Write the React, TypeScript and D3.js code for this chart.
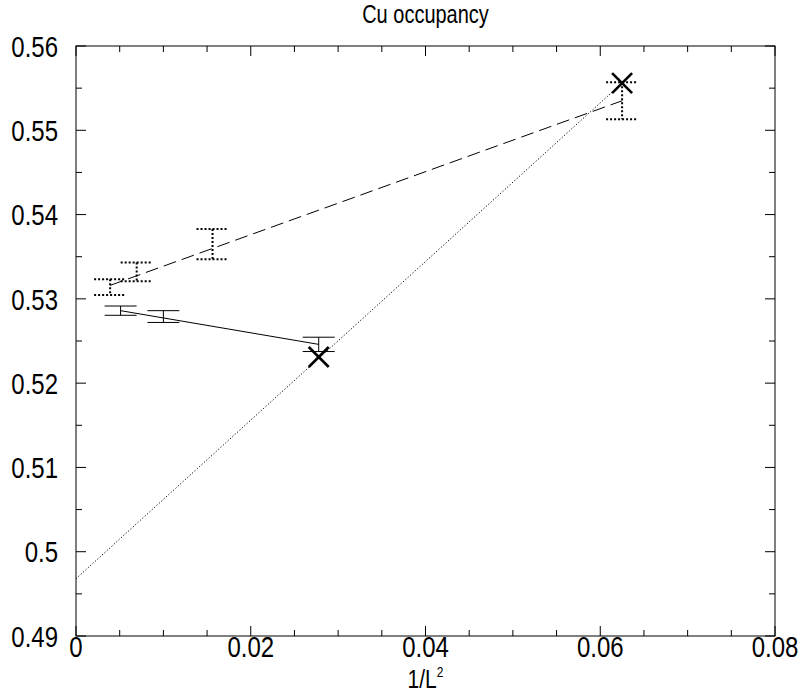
import React from 'react';
import * as d3 from 'd3';

const title = 'Cu occupancy';
const xTicks = [0, 0.02, 0.04, 0.06, 0.08];
const xTickLabels = ['0', '0.02', '0.04', '0.06', '0.08'];
const yTicks = [0.49, 0.5, 0.51, 0.52, 0.53, 0.54, 0.55, 0.56];
const yTickLabels = ['0.49', '0.5', '0.51', '0.52', '0.53', '0.54', '0.55', '0.56'];

// solid series with error bars
const solidX = [1 / 196, 1 / 100, 1 / 36];
const solidY = [0.5286, 0.5279, 0.5246];
const solidErr = [0.00055, 0.0007, 0.00085];
const solidFitX = [1 / 196, 1 / 36];
const solidFitY = [0.5286, 0.5246];

// dashed series with dotted error bars
const dashX = [1 / 256, 1 / 144, 1 / 64, 1 / 16];
const dashY = [0.5314, 0.5332, 0.5365, 0.5535];
const dashErr = [0.00093, 0.0011, 0.0018, 0.0022];
const dashFitX = [1 / 256, 1 / 16];
const dashFitY = [0.5316, 0.5535];

// extrapolation crosses and dotted line
const crossX = [1 / 36, 1 / 16];
const crossY = [0.5231, 0.5556];
const dottedX = [0, 1 / 16];
const dottedY = [0.4968, 0.5556];

const W = 800;
const H = 694;
const L = 76;
const R = 775;
const T = 46;
const B = 636;
const FONT = 'Liberation Sans, Arial, sans-serif';
const SY = 1.25;
const TICK_FS = 24;

export default function App() {
  const x = d3.scaleLinear().domain([0, 0.08]).range([L, R]);
  const y = d3.scaleLinear().domain([0.49, 0.56]).range([B, T]);
  const line = d3
    .line<[number, number]>()
    .x((d) => x(d[0]))
    .y((d) => y(d[1]));

  const xMinor = d3.range(0, 0.0801, 0.005);
  const yMinor = d3.range(0.49, 0.5601, 0.005);
  const capW = 16;
  const cs = 10;

  const errBar = (xs: number[], ys: number[], es: number[], dash: string | undefined, key: string) =>
    xs.map((xv, i) => {
      const cx = x(xv);
      const y1 = y(ys[i] + es[i]);
      const y2 = y(ys[i] - es[i]);
      const sw = dash ? 2 : 1;
      return (
        <g key={key + i} stroke="#000" fill="none" strokeDasharray={dash}>
          <line x1={cx} x2={cx} y1={y1} y2={y2} strokeWidth={sw} />
          <line x1={cx - capW} x2={cx + capW} y1={y1} y2={y1} strokeWidth={sw} />
          <line x1={cx - capW} x2={cx + capW} y1={y2} y2={y2} strokeWidth={sw} />
        </g>
      );
    });

  const stretched = (tx: number, ty: number, anchor: string, fs: number, content: React.ReactNode, key?: string) => (
    <text
      key={key}
      transform={`translate(${tx},${ty}) scale(1,${SY})`}
      textAnchor={anchor}
      fontFamily={FONT}
      fontSize={fs}
      fill="#000"
    >
      {content}
    </text>
  );

  return (
    <svg width={W} height={H} style={{ position: 'absolute', left: 0, top: 0, background: '#fff' }}>
      <rect x={0} y={0} width={W} height={H} fill="#fff" />
      {stretched((L + R) / 2, 23, 'middle', 20, title)}
      {/* frame */}
      <rect x={L} y={T} width={R - L} height={B - T} fill="none" stroke="#000" strokeWidth={1} />
      {/* ticks */}
      {xMinor.map((v, i) => {
        const major = i % 4 === 0;
        const len = major ? 10 : 6;
        return (
          <g key={'xt' + i} stroke="#000" strokeWidth={1}>
            <line x1={x(v)} x2={x(v)} y1={B} y2={B - len} />
            <line x1={x(v)} x2={x(v)} y1={T} y2={T + len} />
          </g>
        );
      })}
      {yMinor.map((v, i) => {
        const major = i % 2 === 0;
        const len = major ? 10 : 6;
        return (
          <g key={'yt' + i} stroke="#000" strokeWidth={1}>
            <line x1={L} x2={L + len} y1={y(v)} y2={y(v)} />
            <line x1={R} x2={R - len} y1={y(v)} y2={y(v)} />
          </g>
        );
      })}
      {xTicks.map((v, i) => stretched(x(v), B + 21, 'middle', TICK_FS, xTickLabels[i], 'xl' + i))}
      {yTicks.map((v, i) =>
        stretched(L - 18, y(v) + 0.358 * TICK_FS * SY, 'end', TICK_FS, yTickLabels[i], 'yl' + i)
      )}
      {stretched(
        (L + R) / 2,
        B + 52,
        'middle',
        21,
        <>
          1/L
          <tspan dy={-9} fontSize={12}>
            2
          </tspan>
        </>
      )}

      {/* dotted extrapolation line */}
      <path
        d={line(dottedX.map((v, i) => [v, dottedY[i]]) as [number, number][]) || ''}
        fill="none"
        stroke="#000"
        strokeWidth={1}
        strokeDasharray="1.2,2"
      />
      {/* solid fit */}
      <path
        d={line(solidFitX.map((v, i) => [v, solidFitY[i]]) as [number, number][]) || ''}
        fill="none"
        stroke="#000"
        strokeWidth={1}
      />
      {/* dashed fit */}
      <path
        d={line(dashFitX.map((v, i) => [v, dashFitY[i]]) as [number, number][]) || ''}
        fill="none"
        stroke="#000"
        strokeWidth={1}
        strokeDasharray="13,6"
      />
      {errBar(solidX, solidY, solidErr, undefined, 's')}
      {errBar(dashX, dashY, dashErr, '2,2', 'd')}
      {crossX.map((v, i) => (
        <g key={'c' + i} stroke="#000" strokeWidth={2.6}>
          <line x1={x(v) - cs} x2={x(v) + cs} y1={y(crossY[i]) - cs} y2={y(crossY[i]) + cs} />
          <line x1={x(v) - cs} x2={x(v) + cs} y1={y(crossY[i]) + cs} y2={y(crossY[i]) - cs} />
        </g>
      ))}
    </svg>
  );
}
